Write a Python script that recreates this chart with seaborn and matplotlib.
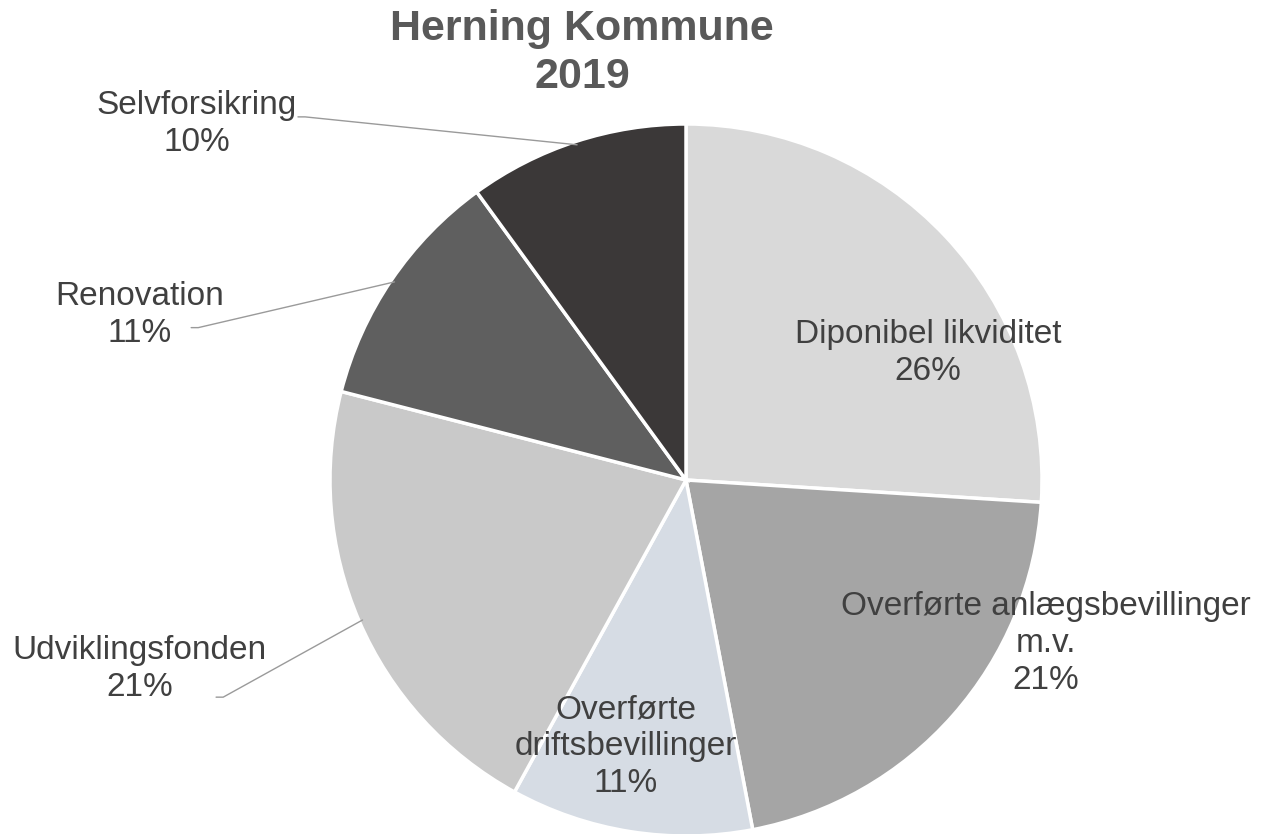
import numpy as np
import seaborn as sns
import matplotlib.pyplot as plt

# data (clockwise from 12 o'clock)
categories = ["Diponibel likviditet", "Overførte anlægsbevillinger\nm.v.",
              "Overførte\ndriftsbevillinger", "Udviklingsfonden",
              "Renovation", "Selvforsikring"]
shares = [26, 21, 11, 21, 11, 10]
slice_colors = ["#d9d9d9", "#a5a5a5", "#d6dce4", "#c9c9c9", "#5f5f5f", "#3b3838"]

sns.set_theme(style="white")
plt.rcParams['font.family'] = ['Liberation Sans', 'DejaVu Sans']

fig = plt.figure(figsize=(12.77, 8.34), dpi=100)
ax = fig.add_axes([330 / 1277, -2 / 834, 712 / 1277, 712 / 834])

wedges, _ = ax.pie(shares, startangle=90, counterclock=False,
                   colors=sns.color_palette(slice_colors),
                   wedgeprops=dict(edgecolor="white", linewidth=2.5))
ax.set_xlim(-1, 1)
ax.set_ylim(-1, 1)
ax.set_axis_off()

txt_color = "#404040"
fs = 24

# label positions (data coords, radius = 1)
label_pos = [(0.68, 0.357), (1.011, -0.458), (-0.169, -0.75),
             (-1.534, -0.531), (-1.534, 0.463), (-1.374, 1.0)]
# leader lines for outside labels: index -> start point
leaders = {3: (-1.32, -0.61), 4: (-1.39, 0.428), 5: (-1.09, 1.02)}

for i, (name, val) in enumerate(zip(categories, shares)):
    x, y = label_pos[i]
    ax.text(x, y, f"{name}\n{val}%", ha="center", va="center", fontsize=fs,
            color=txt_color, linespacing=1.25)
    if i in leaders:
        mid = 90 - 360 * (sum(shares[:i]) + val / 2) / sum(shares)
        ex, ey = np.cos(np.radians(mid)), np.sin(np.radians(mid))
        sx, sy = leaders[i]
        ax.plot([sx, sx + 0.02, ex * 0.99], [sy, sy, ey * 0.99],
                color="#9a9a9a", lw=1, clip_on=False)

fig.text(582 / 1277, 1 - 53 / 834, "Herning Kommune\n2019", ha="center", va="center",
         fontsize=31, fontweight="bold", color="#595959", linespacing=1.25)

fig.savefig("out.png", dpi=100, facecolor="white")
